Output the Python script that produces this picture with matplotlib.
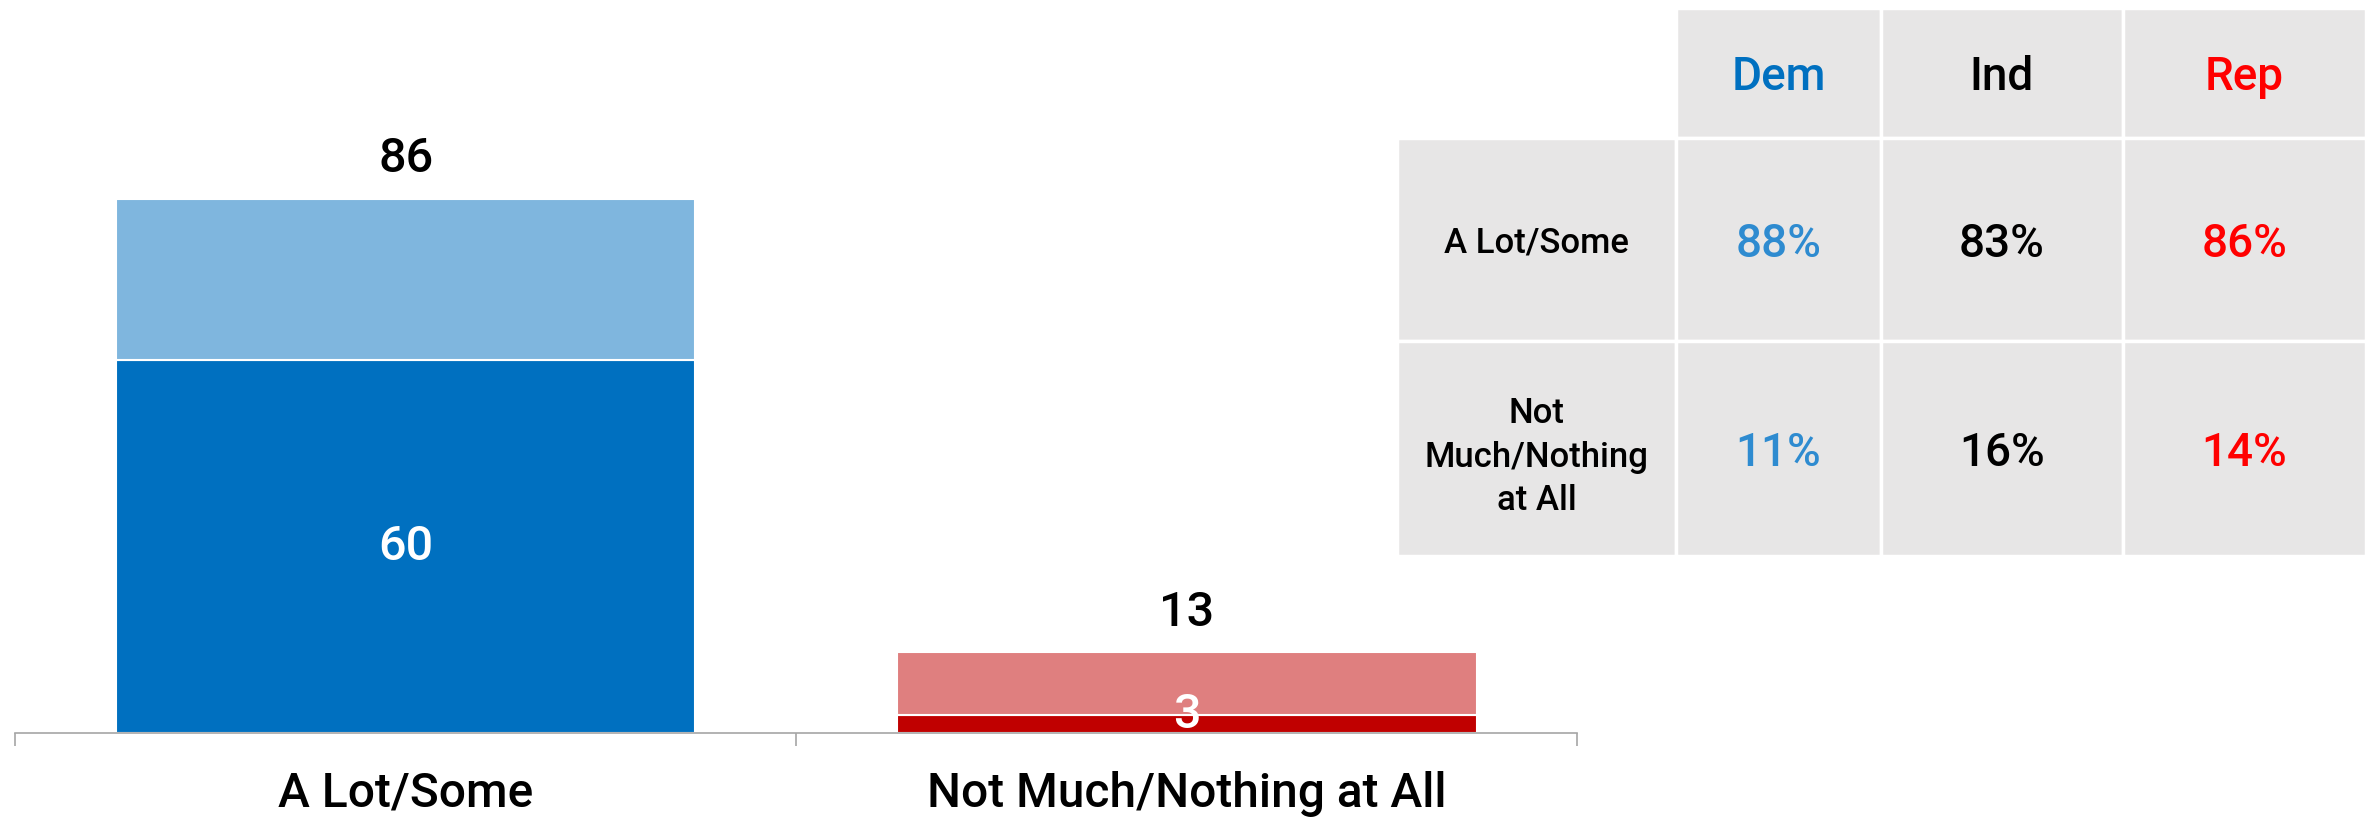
import matplotlib.pyplot as plt

plt.rcParams['font.family'] = ['Roboto', 'DejaVu Sans']
plt.rcParams['font.weight'] = 'medium'

categories = ['A Lot/Some', 'Not Much/Nothing at All']
strong = [60, 3]
total = [86, 13]
dark_colors = ['#0070C0', '#C00000']
light_colors = ['#7FB6DE', '#DF7F7F']

parties = ['Dem', 'Ind', 'Rep']
party_colors = ['#0070C0', '#000000', '#FF0000']
value_colors = ['#2E8BD0', '#000000', '#FF0000']
row_labels = ['A Lot/Some', 'Not\nMuch/Nothing\nat All']
party_values = [['88%', '83%', '86%'],
                ['11%', '16%', '14%']]

fig = plt.figure(figsize=(23.74, 8.21), dpi=100)

# bar chart
ax = fig.add_axes([0.0064, 0.107, 0.658, 0.757])
x = list(range(len(categories)))
light = [t - s for t, s in zip(total, strong)]
ax.bar(x, strong, width=0.742, color=dark_colors, edgecolor='white', linewidth=1.5)
ax.bar(x, light, bottom=strong, width=0.742, color=light_colors, edgecolor='white', linewidth=1.5)

for i in x:
    ax.annotate(str(total[i]), (i, total[i]), xytext=(0, 12), textcoords='offset points',
                ha='center', va='bottom', fontsize=35, color='black')
    ypos = strong[i] / 2 if strong[i] > 10 else strong[i]
    ax.text(i, ypos, str(strong[i]), ha='center', va='center', fontsize=35, color='white')

ax.set_xlim(-0.5, 1.5)
ax.set_ylim(0, 100)
ax.set_xticks([-0.5, 0.5, 1.5])
ax.set_xticklabels([])
ax.set_xticks(x, minor=True)
ax.set_xticklabels(categories, minor=True, fontsize=34.5)
ax.tick_params(axis='x', which='major', length=9, color='#A6A6A6', width=1.2)
ax.tick_params(axis='x', which='minor', length=0, pad=27)
ax.set_yticks([])
for s in ['top', 'right', 'left']:
    ax.spines[s].set_visible(False)
ax.spines['bottom'].set_color('#A6A6A6')
ax.spines['bottom'].set_linewidth(1.2)

# party table
tax = fig.add_axes([0.5885, 0.3228, 0.4081, 0.6675])
tax.axis('off')
cell_text = [[''] + parties] + [[row_labels[r]] + party_values[r] for r in range(2)]
col_w = [279, 205, 242, 243]
row_h = [130, 203, 215]
tbl = tax.table(cellText=cell_text, bbox=[0, 0, 1, 1], cellLoc='center')
tbl.auto_set_font_size(False)
for (r, c), cell in tbl.get_celld().items():
    cell.set_width(col_w[c])
    cell.set_height(row_h[r])
    cell.set_edgecolor('white')
    cell.set_linewidth(2.5)
    cell.set_facecolor('white' if (r == 0 and c == 0) else '#E7E6E6')
    t = cell.get_text()
    t.set_verticalalignment('center_baseline')
    if c == 0:
        t.set_fontsize(25)
        t.set_color('black')
        t.set_linespacing(1.4)
    else:
        t.set_fontsize(33)
        t.set_color(party_colors[c - 1] if r == 0 else value_colors[c - 1])

fig.savefig('out.png', dpi=100)
